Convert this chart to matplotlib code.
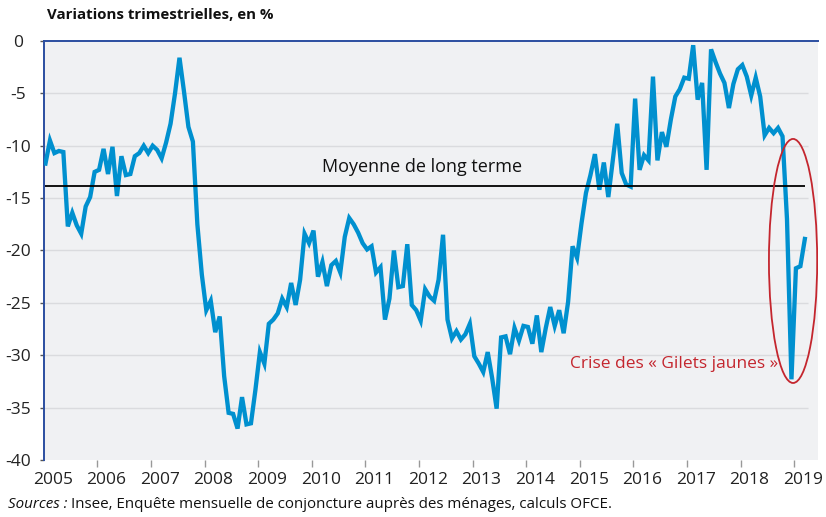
import numpy as np
import matplotlib
matplotlib.use("Agg")
import matplotlib.pyplot as plt
from matplotlib.patches import Ellipse
from matplotlib.transforms import ScaledTranslation

plt.rcParams['font.family'] = ['Open Sans', 'DejaVu Sans']

# Solde mensuel, janvier 2005 -> mars 2019
v2005 = [-11.7, -9.5, -10.7, -10.5, -10.6, -17.7, -16.4, -17.6, -18.4, -15.8, -14.9, -12.5]
v2006 = [-12.3, -10.3, -12.7, -10.1, -14.8, -11.0, -12.8, -12.7, -11.0, -10.7, -10.0, -10.7]
v2007 = [-10.0, -10.4, -11.2, -9.7, -7.9, -5.0, -1.6, -4.8, -8.2, -9.6, -17.5, -22.3]
v2008 = [-25.7, -24.8, -27.8, -26.3, -32.0, -35.5, -35.6, -37.0, -34.0, -36.6, -36.5, -33.3]
v2009 = [-29.7, -30.8, -27.0, -26.6, -26.0, -24.6, -25.4, -23.1, -25.2, -22.8, -18.4, -19.3]
v2010 = [-18.1, -22.5, -21.1, -23.4, -21.4, -21.0, -22.1, -18.7, -16.9, -17.5, -18.3, -19.3]
v2011 = [-19.9, -19.6, -22.1, -21.6, -26.6, -24.6, -20.0, -23.5, -23.4, -19.4, -25.2, -25.7]
v2012 = [-26.7, -23.7, -24.4, -24.8, -22.8, -18.5, -26.6, -28.4, -27.7, -28.5, -28.0, -27.0]
v2013 = [-30.1, -30.8, -31.6, -29.7, -32.2, -35.1, -28.3, -28.2, -29.9, -27.4, -28.6, -27.2]
v2014 = [-27.3, -28.9, -26.2, -29.7, -27.4, -25.4, -27.2, -25.7, -27.9, -24.9, -19.6, -20.7]
v2015 = [-17.4, -14.5, -12.8, -10.8, -14.2, -11.6, -14.9, -11.4, -7.9, -12.6, -13.7, -13.9]
v2016 = [-5.5, -12.3, -10.9, -11.4, -3.4, -11.4, -8.7, -10.1, -7.5, -5.3, -4.6, -3.5]
v2017 = [-3.6, -0.4, -5.6, -4.0, -12.3, -0.8, -2.0, -3.1, -4.0, -6.4, -4.1, -2.7]
v2018 = [-2.3, -3.4, -5.2, -3.5, -5.3, -9.0, -8.3, -8.8, -8.3, -9.1, -17.0, -32.3]
v2019 = [-21.7, -21.5, -18.9]

valeurs = (v2005 + v2006 + v2007 + v2008 + v2009 + v2010 + v2011 + v2012
           + v2013 + v2014 + v2015 + v2016 + v2017 + v2018 + v2019)
dates = 2005 + (np.arange(len(valeurs)) + 0.4) / 12

moyenne = -13.8
annees = list(range(2005, 2020))
yticks = [0, -5, -10, -15, -20, -25, -30, -35, -40]

BLEU = '#0090cf'
ROUGE = '#c4262e'

fig = plt.figure(figsize=(8.26, 5.17), dpi=100)
ax = fig.add_axes([0.0529, 0.1103, 0.9374, 0.8104])
ax.set_facecolor('#f0f1f3')

# grille horizontale
ax.hlines([y for y in yticks if -40 < y < 0], 2005, 2019.26, color='#dadbde', lw=1, zorder=1)

ax.plot(dates, valeurs, color=BLEU, lw=3.1, solid_joinstyle='miter', zorder=3)
ax.hlines(moyenne, 2005.03, 2019.2, color='black', lw=1.3, zorder=4)

ax.text(2012.06, -12.0, 'Moyenne de long terme', ha='center', va='center',
        fontsize=13, color='#111111')
ax.text(2016.76, -30.85, 'Crise des « Gilets jaunes »', ha='center', va='center',
        fontsize=12.5, color=ROUGE)
ax.add_patch(Ellipse((2018.98, -21.0), 0.9, 23.3, fill=False,
                     edgecolor=ROUGE, lw=1.3, zorder=5))

ax.set_xlim(2005, 2019.445)
ax.set_ylim(-40, 0)

for s in ['right', 'bottom']:
    ax.spines[s].set_visible(False)
for s in ['top', 'left']:
    ax.spines[s].set_color('#2b4ea0')
    ax.spines[s].set_linewidth(1.4)

ax.set_xticks(annees)
ax.set_xticklabels([str(a) for a in annees])
ax.tick_params(axis='x', length=5, color='#999999', width=1, pad=4,
               labelsize=12.5, labelcolor='#222222')
xt = ax.xaxis.get_major_ticks()
xt[0].tick1line.set_visible(False)
decal = ScaledTranslation(9 / 100, 0, fig.dpi_scale_trans)
for lab in ax.get_xticklabels():
    lab.set_transform(lab.get_transform() + decal)

ax.set_yticks(yticks)
ax.set_yticklabels([str(y) for y in yticks])
ax.tick_params(axis='y', length=3, color='#555555', width=1, pad=15.5,
               labelsize=12.5, labelcolor='#222222')
for lab in ax.get_yticklabels():
    lab.set_ha('center')

fig.text(47 / 826, 1 - 15 / 517, 'Variations trimestrielles, en %', ha='left', va='center',
         fontsize=10.8, fontweight='bold', color='#111111')

# ligne des sources : partie italique puis texte normal
t1 = fig.text(8 / 826, 1 - 505 / 517, 'Sources :', ha='left', va='center',
              fontsize=10.9, style='italic', color='#111111')
fig.canvas.draw()
bb = t1.get_window_extent(renderer=fig.canvas.get_renderer())
fig.text(bb.x1 / 826 + 4 / 826, 1 - 505 / 517,
         'Insee, Enquête mensuelle de conjoncture auprès des ménages, calculs OFCE.',
         ha='left', va='center', fontsize=10.9, color='#111111')

fig.savefig('out.png', dpi=100)
